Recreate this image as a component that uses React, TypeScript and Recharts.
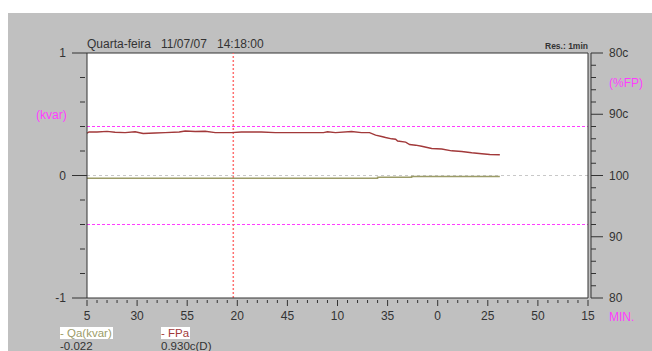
import React from "react";
import {
  ComposedChart,
  Line,
  XAxis,
  YAxis,
  ReferenceLine,
  ReferenceArea,
} from "recharts";

// minutes since 13:05 (the first tick "5")
const startMinute = 5;
const xMax = 250;
const cursorTime = 73; // 14:18:00

const fpTimes = [0, 1, 5, 10, 14, 19, 24, 28, 34, 39, 46, 49, 54, 59, 64, 72, 77, 87, 94, 102, 118, 120, 124, 132, 137, 141, 144, 147, 149, 152, 154, 155, 159, 161, 164, 167, 172, 177, 182, 187, 192, 197, 201, 206];
// distance from unity power factor, positive = capacitive (c)
const fpValues = [6.9, 7.1, 7.1, 7.2, 7.07, 7.0, 7.13, 6.86, 6.94, 7.0, 7.1, 7.27, 7.18, 7.23, 7.0, 7.0, 7.1, 7.1, 7.0, 7.0, 7.0, 7.13, 7.0, 7.18, 7.0, 7.0, 6.58, 6.37, 6.2, 5.99, 5.93, 5.63, 5.44, 5.06, 4.95, 4.78, 4.41, 4.33, 4.03, 3.92, 3.71, 3.54, 3.43, 3.38];

const qaTimes = [0, 145, 162, 206];
const qaValues = [-0.022, -0.015, -0.008, -0.008];

const kvarTicks = [-1, -0.8, -0.6, -0.4, -0.2, 0, 0.2, 0.4, 0.6, 0.8, 1];
const kvarMajor = [-1, 0, 1];
const fpTicks = [-20, -18, -16, -14, -12, -10, -8, -6, -4, -2, 0, 2, 4, 6, 8, 10, 12, 14, 16, 18, 20];
const fpMajor = [-20, -10, 0, 10, 20];
const limitKvar = 0.4;

const timeTicks: number[] = [];
for (let t = 0; t <= xMax; t += 5) timeTicks.push(t);

const fpData = fpTimes.map((t, i) => ({ t, fp: fpValues[i] }));
const qaData = qaTimes.map((t, i) => ({ t, qa: qaValues[i] }));

const FONT = '"Liberation Sans", Arial, sans-serif';
const TEXT = "#333";
const MAGENTA = "#ff3cff";

const fpLabel = (v: number) => (v > 0 ? `${100 - v}c` : v === 0 ? "100" : `${100 + v}`);

const XTick = (props: any) => {
  const { x, y, payload } = props;
  const major = payload.value % 25 === 0;
  return (
    <g>
      <line x1={x} x2={x} y1={y + 2} y2={y + (major ? 8 : 5)} stroke={TEXT} />
      {major && (
        <text x={x} y={y + 22} textAnchor="middle" fontSize={12} fontFamily={FONT} fill={TEXT}>
          {(startMinute + payload.value) % 60}
        </text>
      )}
    </g>
  );
};

const KvarTick = (props: any) => {
  const { x, y, payload } = props;
  const major = kvarMajor.includes(payload.value);
  return (
    <g>
      <line x1={major ? x - 15 : x - 7} x2={major ? x : x - 2} y1={y} y2={y} stroke={TEXT} />
      {major && (
        <text x={x - 21} y={y} dy="0.35em" textAnchor="end" fontSize={12} fontFamily={FONT} fill={TEXT}>
          {payload.value}
        </text>
      )}
    </g>
  );
};

const FpTick = (props: any) => {
  const { x, y, payload } = props;
  const major = fpMajor.includes(payload.value);
  return (
    <g>
      <line x1={x} x2={x + (major ? 12 : 5)} y1={y} y2={y} stroke={TEXT} />
      {major && (
        <text x={x + 18} y={y} dy="0.35em" textAnchor="start" fontSize={12} fontFamily={FONT} fill={TEXT}>
          {fpLabel(payload.value)}
        </text>
      )}
    </g>
  );
};

const abs = (left: number, top: number, extra: React.CSSProperties = {}): React.CSSProperties => ({
  position: "absolute",
  left,
  top,
  fontFamily: FONT,
  fontSize: 12,
  lineHeight: "12px",
  whiteSpace: "pre",
  color: TEXT,
  ...extra,
});

export default function App() {
  return (
    <div style={{ position: "absolute", left: 0, top: 0, width: 652, height: 351, background: "#fff", overflow: "hidden" }}>
      <div style={{ position: "absolute", left: 8, top: 13, width: 644, height: 338, background: "#c0c0c0" }} />
      <div style={{ position: "absolute", left: 0, top: 0 }}>
        <ComposedChart width={652} height={351} margin={{ top: 53, right: 0, bottom: 0, left: 0 }}>
          <XAxis
            dataKey="t"
            type="number"
            domain={[0, xMax]}
            ticks={timeTicks}
            interval={0}
            height={53}
            tickSize={0}
            tickMargin={0}
            tickLine={false}
            axisLine={{ stroke: TEXT }}
            tick={<XTick />}
            allowDuplicatedCategory={false}
          />
          <YAxis
            yAxisId="kvar"
            type="number"
            domain={[-1, 1]}
            ticks={kvarTicks}
            interval={0}
            width={87}
            tickSize={0}
            tickMargin={0}
            tickLine={false}
            axisLine={{ stroke: TEXT }}
            tick={<KvarTick />}
          />
          <YAxis
            yAxisId="border"
            orientation="right"
            type="number"
            domain={[-1, 1]}
            width={3}
            tick={false}
            tickLine={false}
            axisLine={{ stroke: TEXT }}
          />
          <YAxis
            yAxisId="fp"
            orientation="right"
            type="number"
            domain={[-20, 20]}
            ticks={fpTicks}
            interval={0}
            width={61}
            tickSize={0}
            tickMargin={0}
            tickLine={false}
            axisLine={{ stroke: TEXT }}
            tick={<FpTick />}
          />
          <ReferenceArea yAxisId="kvar" x1={0} x2={xMax} y1={-1} y2={1} fill="#fff" fillOpacity={1} stroke="none" />
          <ReferenceLine yAxisId="kvar" y={1} stroke={TEXT} />
          <ReferenceLine yAxisId="kvar" y={0} stroke="#c8c8c8" strokeDasharray="3 3" />
          <ReferenceLine yAxisId="kvar" y={limitKvar} stroke={MAGENTA} strokeDasharray="3 2" />
          <ReferenceLine yAxisId="kvar" y={-limitKvar} stroke={MAGENTA} strokeDasharray="3 2" />
          <ReferenceLine yAxisId="kvar" x={cursorTime} stroke="#ff7070" strokeWidth={1.5} strokeDasharray="2 2" />
          <Line
            yAxisId="kvar"
            data={qaData}
            dataKey="qa"
            type="stepAfter"
            stroke="#9c9c68"
            strokeWidth={1.5}
            dot={false}
            isAnimationActive={false}
          />
          <Line
            yAxisId="fp"
            data={fpData}
            dataKey="fp"
            type="linear"
            stroke="#a2393a"
            strokeWidth={1.4}
            dot={false}
            isAnimationActive={false}
          />
        </ComposedChart>
      </div>

      <div style={abs(87, 38)}>Quarta-feira</div>
      <div style={abs(161, 38)}>11/07/07</div>
      <div style={abs(217, 38)}>14:18:00</div>
      <div style={abs(0, 41, { left: "auto", right: 64, fontSize: 8.5, fontWeight: "bold", lineHeight: "10px", textAlign: "right" })}>Res.: 1min</div>

      <div style={abs(36, 109, { color: MAGENTA })}>(kvar)</div>
      <div style={abs(609, 77, { color: MAGENTA })}>(%FP)</div>
      <div style={abs(609, 311, { color: MAGENTA })}>MIN.</div>

      <div style={abs(60, 327, { background: "#fff", color: "#9c9c68", paddingRight: 1, fontSize: 11.5 })}>- Qa(kvar)</div>
      <div style={abs(60, 341, { lineHeight: "11px", fontSize: 11.5 })}>-0.022</div>
      <div style={abs(161, 327, { background: "#fff", color: "#a2393a", paddingRight: 1, fontSize: 11.5 })}>- FPa</div>
      <div style={abs(161, 341, { lineHeight: "11px", fontSize: 11.5 })}>0.930c(D)</div>
    </div>
  );
}
